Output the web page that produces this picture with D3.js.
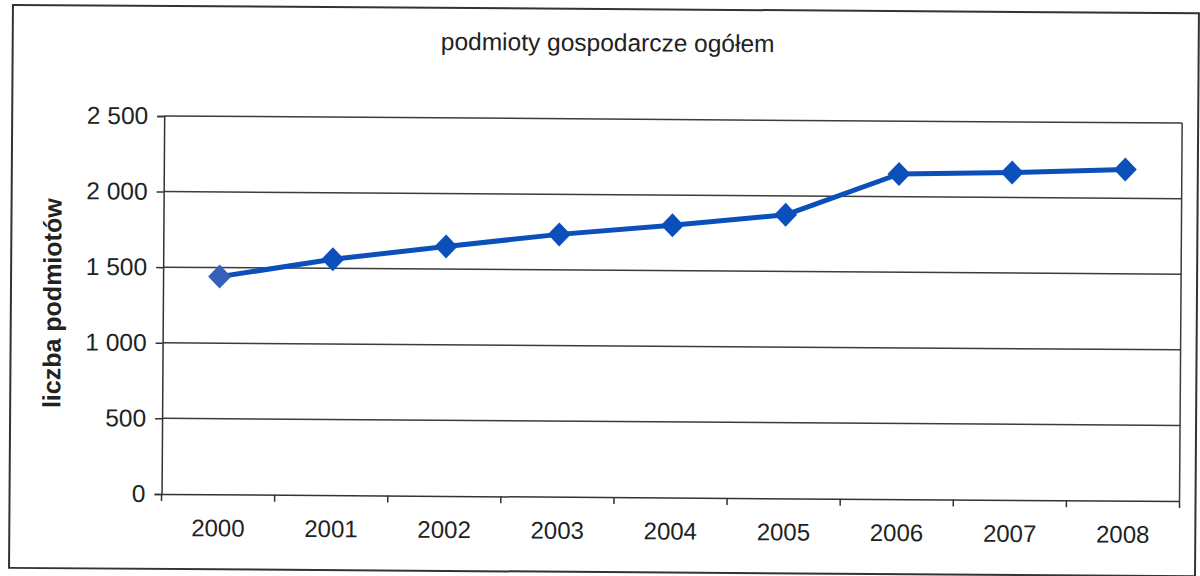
<!DOCTYPE html>
<html>
<head>
<meta charset="utf-8">
<script src="https://cdn.jsdelivr.net/npm/d3@7"></script>
<style>
  html, body { margin: 0; padding: 0; background: #fff; }
  svg { display: block; }
  text { font-family: "Liberation Sans", Arial, sans-serif; fill: #222; }
</style>
</head>
<body>
<svg id="chart" width="1200" height="576"></svg>
<script>
const years = ["2000","2001","2002","2003","2004","2005","2006","2007","2008"];
const values = [1440, 1560, 1650, 1735, 1800, 1875, 2150, 2165, 2190];
const yTicks = [0, 500, 1000, 1500, 2000, 2500];
const title = "podmioty gospodarcze ogółem";
const yTitle = "liczba podmiotów";

const svg = d3.select("#chart");
const root = svg.append("g").attr("transform", "rotate(0.4, 600, 288)");

// outer frame
root.append("rect")
  .attr("x", 11).attr("y", 9).attr("width", 1186).attr("height", 563)
  .attr("fill", "none").attr("stroke", "#333").attr("stroke-width", 2);

const m = { left: 163, right: 1181, top: 119, bottom: 497 };
const x = d3.scaleBand().domain(years).range([m.left, m.right]);
const y = d3.scaleLinear().domain([0, 2500]).range([m.bottom, m.top]);

const fmt = v => d3.format(",")(v).replace(/,/g, " ");
const FONT = '"Liberation Sans", Arial, sans-serif';

// gridlines
root.append("g").selectAll("line").data(yTicks.filter(d => d > 0)).join("line")
  .attr("x1", m.left).attr("x2", m.right)
  .attr("y1", d => y(d)).attr("y2", d => y(d))
  .attr("stroke", "#3c3c3c").attr("stroke-width", 1.5);

// right border of plot
root.append("line")
  .attr("x1", m.right).attr("x2", m.right).attr("y1", m.top).attr("y2", m.bottom)
  .attr("stroke", "#3c3c3c").attr("stroke-width", 1.5);

// y axis
const yAxis = root.append("g").attr("transform", `translate(${m.left},0)`)
  .call(d3.axisLeft(y).tickValues(yTicks).tickFormat(fmt).tickSize(7).tickPadding(9));
yAxis.select(".domain").attr("stroke", "#333").attr("stroke-width", 1.5);
yAxis.selectAll(".tick line").attr("stroke", "#333").attr("stroke-width", 1.5);
yAxis.selectAll(".tick text").attr("font-size", 24.5).attr("fill", "#222")
  .attr("font-family", FONT);

// x axis
const xAxis = root.append("g").attr("transform", `translate(0,${m.bottom})`)
  .call(d3.axisBottom(x).tickSize(0).tickPadding(25));
xAxis.select(".domain").attr("stroke", "#333").attr("stroke-width", 1.5);
xAxis.selectAll(".tick text").attr("font-size", 24).attr("fill", "#222")
  .attr("font-family", FONT);
// ticks between categories
const bounds = years.map(d => x(d)).concat([m.right]);
root.append("g").selectAll("line").data(bounds).join("line")
  .attr("x1", d => d).attr("x2", d => d)
  .attr("y1", m.bottom).attr("y2", m.bottom + 7)
  .attr("stroke", "#333").attr("stroke-width", 1.5);

// line
const cx = d => x(d) + x.bandwidth() / 2;
const lineGen = d3.line().x((d, i) => cx(years[i])).y(d => y(d));
root.append("path").datum(values)
  .attr("d", lineGen).attr("fill", "none")
  .attr("stroke", "#0b4fba").attr("stroke-width", 5).attr("stroke-linejoin", "round");

// diamonds
root.append("g").selectAll("path").data(values).join("path")
  .attr("d", (d, i) => {
    const px = cx(years[i]), py = y(d);
    return `M${px},${py-12}L${px+11.5},${py}L${px},${py+12}L${px-11.5},${py}Z`;
  })
  .attr("fill", (d, i) => i === 0 ? "#3561b8" : "#0b4fba");

// title
root.append("text").attr("x", 606).attr("y", 51)
  .attr("text-anchor", "middle").attr("font-size", 24.5).text(title);

// y title
root.append("text")
  .attr("transform", "translate(61,307) rotate(-90)")
  .attr("text-anchor", "middle").attr("font-size", 25).attr("font-weight", "bold")
  .text(yTitle);
</script>
</body>
</html>
